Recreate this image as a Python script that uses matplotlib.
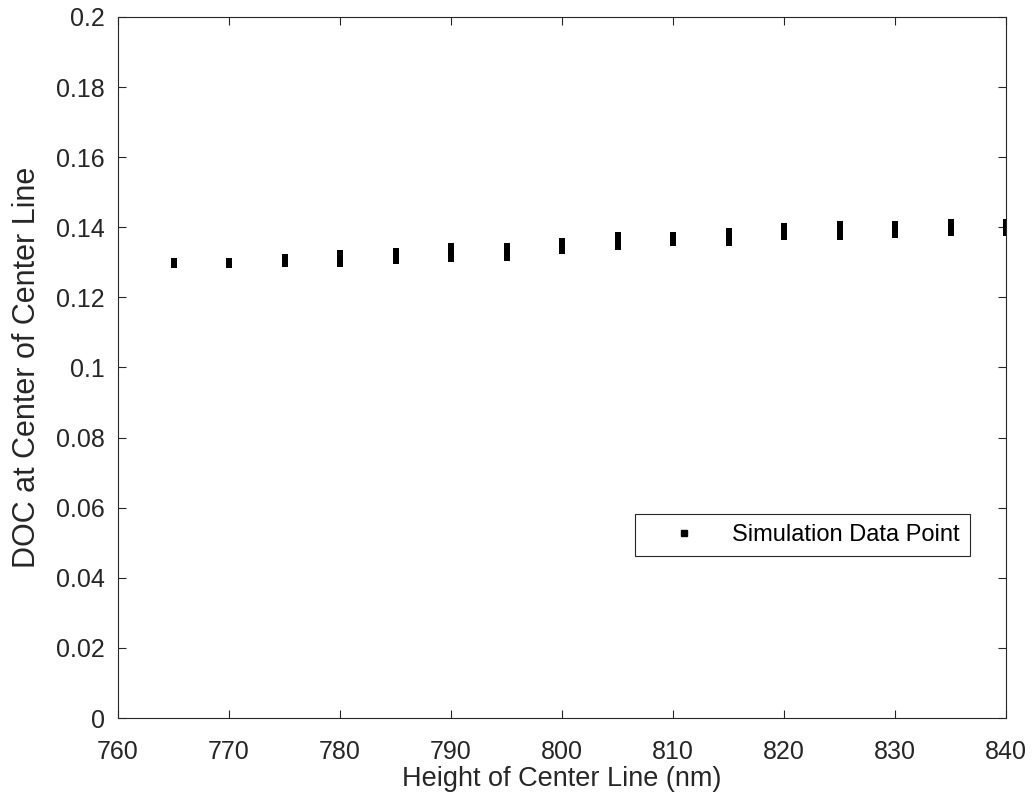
import matplotlib
matplotlib.use('Agg')
import matplotlib.pyplot as plt
from matplotlib.lines import Line2D

# Altura de la línea central (nm) y rango de DOC observado en cada altura
height = [765, 770, 775, 780, 785, 790, 795, 800, 805, 810, 815, 820, 825, 830, 835, 840]
doc_low = [0.1283, 0.1283, 0.1288, 0.1288, 0.1294, 0.1300, 0.1305, 0.1324,
           0.1335, 0.1347, 0.1347, 0.1364, 0.1364, 0.1370, 0.1375, 0.1375]
doc_high = [0.1312, 0.1312, 0.1324, 0.1335, 0.1340, 0.1354, 0.1354, 0.1370,
            0.1388, 0.1388, 0.1399, 0.1411, 0.1418, 0.1418, 0.1424, 0.1424]

xticks = [760, 770, 780, 790, 800, 810, 820, 830, 840]
yticks = [0, 0.02, 0.04, 0.06, 0.08, 0.1, 0.12, 0.14, 0.16, 0.18, 0.2]
ytick_labels = ['0', '0.02', '0.04', '0.06', '0.08', '0.1', '0.12', '0.14', '0.16', '0.18', '0.2']

plt.rcParams['font.family'] = ['Liberation Sans', 'DejaVu Sans']

fig = plt.figure(figsize=(10.36, 8.09), dpi=100)
ax = fig.add_axes([118 / 1036, 91 / 809, 888 / 1036, 701 / 809])

ax.vlines(height, doc_low, doc_high, colors='black', linewidth=4.3, capstyle='butt')

ax.set_xlim(760, 840)
ax.set_ylim(0, 0.2)
ax.set_xticks(xticks)
ax.set_yticks(yticks)
ax.set_yticklabels(ytick_labels)

gray = '#262626'
ax.tick_params(direction='in', top=True, right=True, length=6, width=0.8,
               labelsize=18, colors=gray)
ax.tick_params(axis='x', pad=16)
ax.tick_params(axis='y', pad=9.5)
for s in ax.spines.values():
    s.set_color(gray)
    s.set_linewidth(0.8)

ax.set_xlabel('Height of Center Line (nm)', fontsize=19.5, color=gray, labelpad=1.5)
ax.set_ylabel('DOC at Center of Center Line', fontsize=22, color=gray, labelpad=10)

proxy = Line2D([], [], linestyle='none', marker='s', markersize=4, color='black')
leg = ax.legend([proxy], ['Simulation Data Point'], loc='upper left',
                bbox_to_anchor=(0.582, 0.291), fontsize=17, fancybox=False,
                framealpha=1, edgecolor=gray, handlelength=3.3, handletextpad=0.4,
                borderpad=0.42, borderaxespad=0)
leg.get_frame().set_linewidth(0.8)

fig.savefig('out.png', dpi=100)
